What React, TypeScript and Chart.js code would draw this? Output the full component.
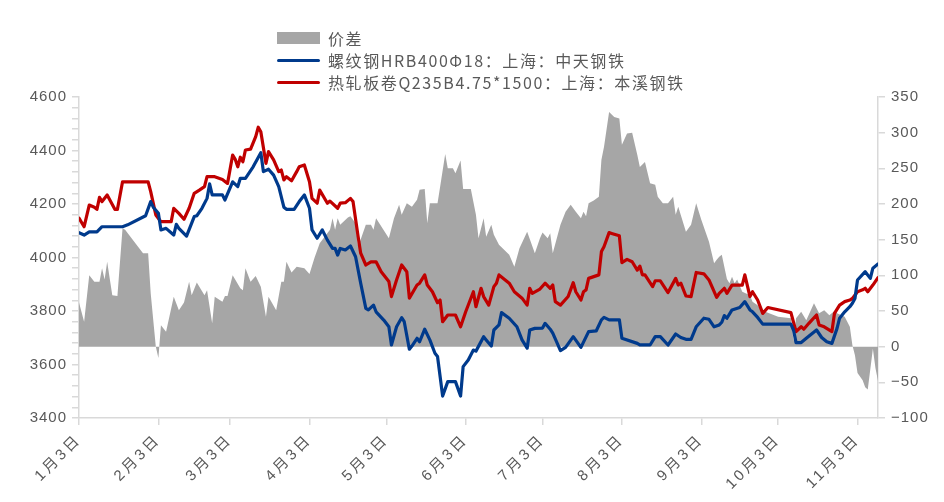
import React, { useEffect, useRef } from 'react';
import { Chart, registerables } from 'chart.js';

Chart.register(...registerables);

// x values are days counted from 1月3日
const tickDays = [0, 31, 59, 90, 120, 151, 181, 212, 243, 273, 304];
const tickLabels = ['1月3日', '2月3日', '3月3日', '4月3日', '5月3日', '6月3日', '7月3日', '8月3日', '9月3日', '10月3日', '11月3日'];

const legendLabels = ['价差', '螺纹钢HRB400Φ18：上海：中天钢铁', '热轧板卷Q235B4.75*1500：上海：本溪钢铁'];

const hrcDay = [0, 2, 4, 6, 7, 8, 9, 11, 14, 15, 17, 27, 28, 30, 32, 36, 37, 39, 41, 43, 45, 47, 49, 50, 53, 56, 58, 60, 61, 62, 63, 64, 65, 67, 69, 70, 71, 73, 74, 76, 78, 79, 80, 81, 83, 85, 86, 88, 90, 91, 93, 94, 97, 98, 101, 102, 104, 106, 107, 109, 110, 112, 114, 116, 118, 121, 122, 124, 126, 128, 129, 132, 133, 135, 136, 138, 140, 141, 142, 144, 147, 149, 151, 154, 155, 157, 158, 160, 162, 163, 164, 168, 170, 173, 175, 176, 177, 180, 182, 184, 185, 186, 188, 191, 193, 194, 196, 197, 198, 199, 203, 204, 205, 207, 208, 211, 212, 214, 216, 218, 219, 220, 221, 224, 225, 227, 230, 233, 234, 235, 237, 239, 241, 244, 246, 249, 250, 252, 253, 255, 259, 260, 262, 263, 265, 267, 269, 278, 280, 282, 283, 285, 288, 289, 291, 294, 295, 297, 299, 301, 302, 304, 306, 307, 308, 310, 312];
const hrcPrice = [4147, 4115, 4196, 4188, 4180, 4225, 4209, 4234, 4180, 4180, 4283, 4283, 4246, 4159, 4134, 4134, 4184, 4165, 4143, 4184, 4240, 4252, 4265, 4302, 4302, 4292, 4277, 4383, 4367, 4339, 4375, 4358, 4402, 4405, 4452, 4487, 4470, 4352, 4396, 4365, 4321, 4327, 4290, 4302, 4287, 4321, 4339, 4346, 4283, 4221, 4203, 4252, 4203, 4211, 4184, 4203, 4205, 4221, 4209, 4078, 4016, 3972, 3984, 3984, 3947, 3910, 3854, 3916, 3972, 3947, 3848, 3897, 3904, 3935, 3897, 3872, 3831, 3841, 3760, 3785, 3785, 3741, 3797, 3872, 3816, 3885, 3854, 3822, 3891, 3904, 3935, 3904, 3872, 3848, 3822, 3885, 3866, 3882, 3904, 3885, 3897, 3835, 3822, 3854, 3906, 3872, 3841, 3872, 3879, 3922, 3935, 4022, 4040, 4093, 4090, 4081, 3981, 3993, 3984, 3953, 3968, 3935, 3935, 3891, 3913, 3913, 3869, 3922, 3897, 3904, 3856, 3854, 3944, 3939, 3916, 3851, 3866, 3885, 3866, 3897, 3897, 3935, 3854, 3872, 3841, 3791, 3813, 3794, 3723, 3741, 3732, 3754, 3785, 3748, 3741, 3723, 3791, 3822, 3835, 3841, 3847, 3872, 3879, 3885, 3872, 3897, 3925];

const rebarDay = [0, 2, 4, 7, 9, 17, 19, 26, 28, 29, 31, 32, 34, 37, 38, 39, 42, 45, 46, 48, 50, 51, 52, 56, 57, 60, 62, 63, 65, 68, 71, 72, 74, 76, 78, 80, 81, 84, 86, 88, 90, 91, 93, 95, 97, 99, 100, 101, 102, 104, 106, 108, 110, 112, 113, 115, 116, 119, 121, 122, 124, 126, 127, 129, 130, 132, 133, 135, 137, 139, 140, 142, 144, 147, 149, 150, 152, 154, 155, 158, 159, 161, 162, 164, 165, 168, 171, 173, 175, 176, 178, 181, 182, 184, 185, 188, 190, 193, 196, 199, 202, 204, 205, 207, 211, 212, 218, 219, 223, 225, 227, 230, 233, 235, 237, 239, 241, 244, 246, 248, 250, 251, 252, 253, 255, 258, 260, 262, 263, 265, 267, 268, 278, 279, 280, 282, 284, 288, 290, 292, 294, 296, 297, 299, 301, 302, 303, 304, 307, 309, 310, 312];
const rebarPrice = [4093, 4084, 4096, 4096, 4115, 4115, 4122, 4156, 4209, 4188, 4165, 4103, 4109, 4084, 4124, 4109, 4080, 4153, 4156, 4184, 4221, 4275, 4234, 4234, 4215, 4283, 4265, 4296, 4296, 4339, 4392, 4321, 4330, 4308, 4265, 4188, 4180, 4180, 4209, 4234, 4184, 4103, 4072, 4103, 4065, 4034, 4034, 4009, 4034, 4028, 4043, 4003, 3904, 3810, 3804, 3822, 3797, 3766, 3741, 3673, 3741, 3775, 3760, 3657, 3669, 3698, 3685, 3732, 3692, 3642, 3630, 3482, 3536, 3536, 3482, 3592, 3617, 3654, 3650, 3704, 3692, 3669, 3729, 3748, 3794, 3773, 3741, 3692, 3661, 3729, 3735, 3736, 3754, 3732, 3717, 3652, 3664, 3704, 3664, 3723, 3726, 3767, 3776, 3767, 3767, 3698, 3679, 3673, 3673, 3704, 3704, 3673, 3714, 3701, 3694, 3694, 3741, 3773, 3769, 3741, 3748, 3758, 3783, 3773, 3804, 3813, 3835, 3804, 3797, 3776, 3751, 3751, 3751, 3729, 3682, 3682, 3698, 3729, 3701, 3685, 3679, 3735, 3773, 3797, 3816, 3829, 3847, 3916, 3947, 3922, 3960, 3976];

const spreadDay = [0, 2, 4, 6, 8, 9, 10, 11, 13, 15, 17, 18, 25, 27, 28, 29, 30, 31, 32, 34, 37, 39, 41, 43, 44, 46, 49, 50, 52, 53, 56, 57, 58, 60, 63, 64, 65, 67, 69, 71, 73, 74, 77, 79, 80, 81, 83, 85, 88, 90, 92, 94, 98, 99, 100, 101, 102, 105, 106, 108, 109, 112, 114, 115, 116, 121, 123, 125, 126, 128, 130, 132, 133, 135, 136, 137, 140, 141, 143, 144, 146, 147, 149, 150, 153, 155, 156, 158, 159, 161, 162, 164, 168, 170, 172, 175, 178, 180, 181, 183, 184, 185, 188, 190, 192, 194, 196, 197, 198, 199, 201, 203, 204, 205, 207, 209, 211, 212, 214, 216, 218, 219, 221, 223, 225, 226, 228, 230, 232, 233, 234, 237, 239, 241, 243, 246, 248, 249, 250, 251, 253, 254, 255, 256, 257, 259, 262, 263, 265, 267, 268, 273, 278, 279, 280, 282, 284, 287, 289, 291, 293, 295, 296, 299, 301, 302, 303, 304, 306, 307, 308, 310, 311, 312];
const spreadValue = [62, 35, 100, 91, 91, 110, 94, 119, 72, 71, 166, 164, 131, 131, 75, 37, 0, -16, 30, 21, 70, 51, 62, 91, 72, 90, 72, 79, 33, 70, 63, 71, 71, 100, 82, 79, 110, 91, 99, 84, 42, 70, 51, 91, 91, 119, 104, 112, 110, 102, 125, 145, 164, 180, 164, 180, 171, 181, 183, 173, 140, 171, 171, 164, 180, 152, 180, 199, 185, 201, 196, 206, 220, 221, 173, 201, 201, 224, 270, 250, 250, 243, 261, 221, 221, 185, 152, 180, 154, 171, 157, 143, 129, 112, 138, 161, 131, 152, 160, 152, 159, 131, 171, 189, 199, 189, 180, 189, 183, 201, 205, 210, 262, 280, 329, 322, 320, 283, 299, 300, 269, 252, 259, 229, 227, 210, 201, 201, 210, 185, 196, 161, 171, 201, 178, 147, 117, 122, 126, 129, 95, 89, 98, 89, 94, 77, 72, 63, 58, 49, 49, 42, 40, 8, 40, 49, 37, 61, 47, 51, 44, 50, 47, 42, 28, 2, -12, -37, -47, -57, -60, -3, -30, -48];

const toPoints = (xs: number[], ys: number[]) => xs.map((x, i) => ({ x, y: ys[i] }));

const TEXT = '#595959';
const AXIS = '#d9d9d9';
const TICK_FONT = { family: '"Liberation Sans", "Noto Sans CJK SC", sans-serif', size: 15 };

const letterSpacingPlugin = {
  id: 'tickLetterSpacing',
  afterLayout(chart: any) {
    const spacing: Record<string, string> = { x: '3px', y: '1px', y1: '1px' };
    Object.keys(spacing).forEach((id) => {
      const s = chart.scales[id];
      if (!s || s.__ls) return;
      const orig = s.drawLabels;
      s.drawLabels = function (area: any) {
        const ctx = this.ctx;
        ctx.save();
        ctx.letterSpacing = spacing[id];
        orig.call(this, area);
        ctx.restore();
      };
      s.__ls = true;
    });
  },
};

export default function App() {
  const ref = useRef<HTMLCanvasElement>(null);

  useEffect(() => {
    const chart = new Chart(ref.current as HTMLCanvasElement, {
      type: 'line',
      data: {
        datasets: [
          {
            label: legendLabels[2],
            data: toPoints(hrcDay, hrcPrice),
            yAxisID: 'y',
            borderColor: '#c00000',
            backgroundColor: '#c00000',
            borderWidth: 3.2,
            pointRadius: 0,
            tension: 0,
            fill: false,
            order: 2,
            borderJoinStyle: 'round',
            borderCapStyle: 'round',
          },
          {
            label: legendLabels[1],
            data: toPoints(rebarDay, rebarPrice),
            yAxisID: 'y',
            borderColor: '#003a8c',
            backgroundColor: '#003a8c',
            borderWidth: 3.2,
            pointRadius: 0,
            tension: 0,
            fill: false,
            order: 1,
            borderJoinStyle: 'round',
            borderCapStyle: 'round',
          },
          {
            label: legendLabels[0],
            data: toPoints(spreadDay, spreadValue),
            yAxisID: 'y1',
            borderColor: 'rgba(0,0,0,0)',
            backgroundColor: '#a6a6a6',
            borderWidth: 0,
            pointRadius: 0,
            tension: 0,
            fill: 'origin',
            order: 3,
          },
        ],
      } as any,
      options: {
        responsive: false,
        animation: false,
        layout: { padding: { top: 97, left: 0, right: 0, bottom: 0 } },
        plugins: { legend: { display: false }, tooltip: { enabled: false } },
        scales: {
          x: {
            type: 'linear',
            min: 0,
            max: 312,
            afterBuildTicks: (scale: any) => {
              scale.ticks = tickDays.map((v) => ({ value: v }));
            },
            afterFit: (scale: any) => {
              scale.height = 84;
            },
            ticks: {
              autoSkip: false,
              minRotation: 45,
              maxRotation: 45,
              padding: 6,
              color: TEXT,
              font: TICK_FONT,
              callback: (v: any) => {
                const i = tickDays.indexOf(Number(v));
                return i >= 0 ? tickLabels[i] : '';
              },
            },
            grid: { display: true, drawOnChartArea: false, drawTicks: true, tickLength: 7, color: AXIS, lineWidth: 1.5 },
            border: { display: true, color: AXIS, width: 1.5 },
          },
          y: {
            position: 'left',
            min: 3400,
            max: 4600,
            afterFit: (scale: any) => {
              scale.width = 79;
            },
            ticks: {
              stepSize: 40,
              autoSkip: false,
              padding: 5,
              color: TEXT,
              font: TICK_FONT,
              callback: (v: any) => (Number(v) % 200 === 0 ? String(v) : ''),
            },
            grid: { display: true, drawOnChartArea: false, drawTicks: true, tickLength: 7, color: AXIS, lineWidth: 1.5 },
            border: { display: true, color: AXIS, width: 1.5 },
          },
          y1: {
            position: 'right',
            min: -100,
            max: 350,
            afterFit: (scale: any) => {
              scale.width = 66;
            },
            ticks: {
              stepSize: 50,
              autoSkip: false,
              padding: 6,
              color: TEXT,
              font: TICK_FONT,
              callback: (v: any) => (Number(v) < 0 ? '\u2212' + Math.abs(Number(v)) : String(v)),
            },
            grid: { display: true, drawOnChartArea: false, drawTicks: true, tickLength: 7, color: AXIS, lineWidth: 1.5 },
            border: { display: true, color: AXIS, width: 1.5 },
          },
        },
      } as any,
      plugins: [letterSpacingPlugin],
    });
    return () => chart.destroy();
  }, []);

  const legendItems = [
    { text: legendLabels[0], kind: 'rect', color: '#a6a6a6' },
    { text: legendLabels[1], kind: 'line', color: '#003a8c' },
    { text: legendLabels[2], kind: 'line', color: '#c00000' },
  ];

  return (
    <div style={{ position: 'absolute', left: 0, top: 0, width: 944, height: 502, background: '#ffffff' }}>
      <canvas ref={ref} width={944} height={502} style={{ position: 'absolute', left: 0, top: 0, width: 944, height: 502 }} />
      <div style={{ position: 'absolute', left: 277, top: 27 }}>
        {legendItems.map((it) => (
          <div key={it.text} style={{ display: 'flex', alignItems: 'center', height: 22 }}>
            <div
              style={{
                width: 43,
                height: it.kind === 'rect' ? 12 : 3,
                background: it.color,
                borderRadius: it.kind === 'line' ? 1.5 : 0,
              }}
            />
            <span
              style={{
                marginLeft: 8,
                fontFamily: '"Noto Sans CJK SC", "Liberation Sans", sans-serif',
                fontSize: 16,
                letterSpacing: '1.6px',
                color: TEXT,
                whiteSpace: 'nowrap',
                lineHeight: '22px',
              }}
            >
              {it.text}
            </span>
          </div>
        ))}
      </div>
    </div>
  );
}
